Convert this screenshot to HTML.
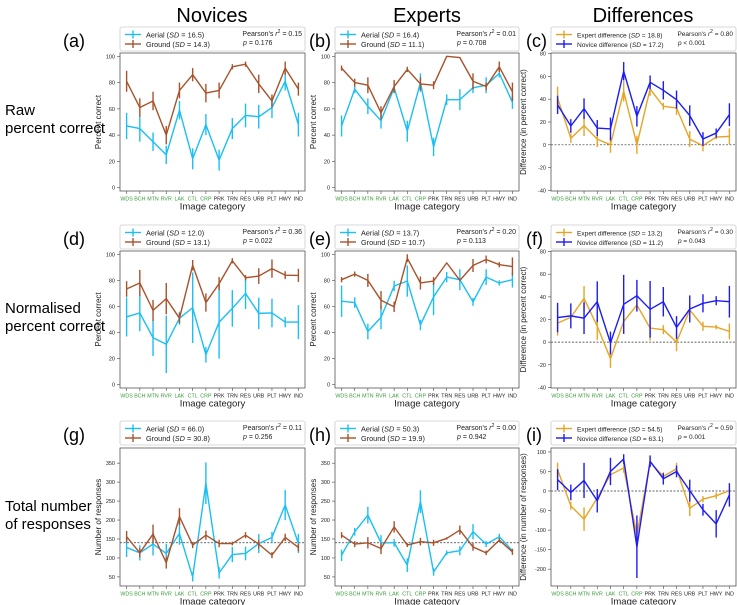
<!DOCTYPE html>
<html><head><meta charset="utf-8">
<style>
html,body{margin:0;padding:0;background:#fff;}
svg{display:block;font-family:"Liberation Sans","DejaVu Sans",sans-serif;}
</style></head>
<body>
<svg id="fig" width="737" height="605" viewBox="0 0 737 605" xmlns="http://www.w3.org/2000/svg">
<text x="212" y="22" font-size="20" text-anchor="middle">Novices</text>
<text x="427" y="22" font-size="20" text-anchor="middle">Experts</text>
<text x="643" y="22" font-size="20" text-anchor="middle">Differences</text>
<text font-size="15"><tspan x="5" y="115">Raw</tspan><tspan x="5" y="133">percent correct</tspan></text>
<text font-size="15"><tspan x="5" y="313">Normalised</tspan><tspan x="5" y="331">percent correct</tspan></text>
<text font-size="15"><tspan x="5" y="511">Total number</tspan><tspan x="5" y="529">of responses</tspan></text>
</svg>
<script>
const categories=["WDS","BCH","MTN","RVR","LAK","CTL","CRP","PRK","TRN","RES","URB","PLT","HWY","IND"];
const greenCount=7;
// (a)
const aAerial=[47,45,35,25,59,22,48,21,45,55,54,61,81,48];
const aAerialErr=[10,10,7,7,7,8,8,8,8,9,9,8,7,9];
const aGround=[81,61,66,40,74,86,72,74,92,94,79,66,91,75];
const aGroundErr=[8,7,7,7,6,5,7,6,2,2,7,5,5,5];
// (b)
const bAerial=[47,75,62,51,76,43,80,31,67,67,76,78,87,65];
const bAerialErr=[8,3,6,6,3,8,7,7,4,8,4,6,3,5];
const bGround=[91,80,78,57,77,90,79,78,100,99,81,77,92,73];
const bGroundErr=[2,3,6,5,5,2,5,3,0,0,6,3,4,7];
// (c)
const cExpert=[41,5.7,16.8,5,0,47,0,49,33.8,32.3,5,-0.8,6.8,7.4];
const cExpertErr=[10,4,9,7,7,9,8,6,3,6,7,5,2,7];
const cNovice=[35,16.5,31.7,14.7,13.9,64.5,25,54.8,47.8,39.6,25.6,5.1,10.3,26.4];
const cNoviceErr=[8,6,9,7,10,8,9,6,8,8,9,6,4,10];
// (d)
const dAerial=[52,55,36,31,51,59,23,48,58.5,70,54.7,55,48,48];
const dAerialErr=[15,14,14,22,5,27,6,28,14,12,12,11,4,13];
const dGround=[73.4,78,57,66,51,91.6,63,77.5,95,82,83.3,89,84,83.8];
const dGroundErr=[6,10,8,12,4,4,7,5,2,2,6,7,3,5];
// (e)
const eAerial=[64,63,40.8,51.6,75.7,79.5,45.8,67.3,82.5,80.5,63.5,82.5,78,80.5];
const eAerialErr=[12,4,6,9,4,12,4,14,4,8,3,6,2,6];
const eGround=[80.5,84.8,80,64.8,59.7,97,78,79.5,93.4,80,91.4,96,92,90.6];
const eGroundErr=[2,2,5,7,4,3,5,3,0,0,5,3,2,7];
// (f)
const fExpert=[16.8,22,38.6,14,-14.7,18.2,32.8,12.4,11,0,28.4,14,13.3,9.5];
const fExpertErr=[11,2,11,12,8,11,5,11,4,8,6,4,2,7];
const fNovice=[21.7,23.2,21.2,35.7,-0.7,33.4,41,29,35.7,13,29.3,34.3,36.6,35.7];
const fNoviceErr=[13,11,14,18,10,26,14,25,13,10,12,8,4,14];
// (g)
const gAerial=[127.6,113.5,136.5,111.8,164.7,50,297,60.6,109,111.8,138,154,239.7,138];
const gAerialErr=[25,20,30,25,30,12,55,15,20,18,25,15,40,25];
const gGround=[156,113.5,163,87,209,134,160,138,138,160,136.5,107.4,154,127.6];
const gGroundErr=[15,12,25,15,22,8,12,10,5,8,12,8,10,10];
// (h)
const hAerial=[107,169,213,140,140,81,248.5,63,113.5,119,169,136.5,156,119];
const hAerialErr=[15,10,22,20,10,18,30,10,6,12,20,8,8,5];
const hGround=[160,136.5,140,125,182,134,143,140,151.5,173.5,129,113.5,147,116];
const hGroundErr=[8,8,15,15,15,5,10,8,3,12,10,6,5,8];
// (i)
const iExpert=[54.6,-38,-72,-18,41.7,59,-112.6,73.4,37.4,57,-44,-21,-12,0.6];
const iExpertErr=[18,10,30,12,15,12,30,10,10,15,20,8,8,5];
const iNovice=[29,-3.7,27,-25,50,82,-142.6,76,31.4,50,1,-48,-84,-10];
const iNoviceErr=[27,20,45,30,35,12,80,15,15,15,28,15,35,30];

const percentTicks=[0,20,40,60,80,100];
const diffTicks=[-40,-20,0,20,40,60,80];
const respTicks=[50,100,150,200,250,300,350];
const respDiffTicks=[-200,-150,-100,-50,0,50,100];

const AER="#1cbff2",GRD="#a8522c",EXP="#e6a526",NOV="#1c1cf5";
const NS="http://www.w3.org/2000/svg";
const svg=document.getElementById("fig");
function mk(tag,attrs,parent){const e=document.createElementNS(NS,tag);for(const k in attrs)e.setAttribute(k,attrs[k]);(parent||svg).appendChild(e);return e;}

const cols=[[120,305],[335,519],[551,736]];
const rows=[[53,191],[251,388],[448,586]];
const legTop=[27,225,421];
const letterX=[63,309,526];

const panels=[
 {id:"a",c:0,r:0,dom:[-2.5,102.5],ticks:percentTicks,yl:"Percent correct",s:[["Aerial","16.5",aAerial,aAerialErr,AER],["Ground","14.3",aGround,aGroundErr,GRD]],r2:"0.15",p:"p = 0.176"},
 {id:"b",c:1,r:0,dom:[-2.5,102.5],ticks:percentTicks,yl:"Percent correct",s:[["Aerial","16.4",bAerial,bAerialErr,AER],["Ground","11.1",bGround,bGroundErr,GRD]],r2:"0.01",p:"p = 0.708"},
 {id:"c",c:2,r:0,dom:[-40.5,80.5],ticks:diffTicks,yl:"Difference (in percent correct)",zero:0,s:[["Expert difference","18.8",cExpert,cExpertErr,EXP],["Novice difference","17.2",cNovice,cNoviceErr,NOV]],r2:"0.80",p:"p < 0.001"},
 {id:"d",c:0,r:1,dom:[-2.5,102.5],ticks:percentTicks,yl:"Percent correct",s:[["Aerial","12.0",dAerial,dAerialErr,AER],["Ground","13.1",dGround,dGroundErr,GRD]],r2:"0.36",p:"p = 0.022"},
 {id:"e",c:1,r:1,dom:[-2.5,102.5],ticks:percentTicks,yl:"Percent correct",s:[["Aerial","13.7",eAerial,eAerialErr,AER],["Ground","10.7",eGround,eGroundErr,GRD]],r2:"0.20",p:"p = 0.113"},
 {id:"f",c:2,r:1,dom:[-40.5,80.5],ticks:diffTicks,yl:"Difference (in percent correct)",zero:0,s:[["Expert difference","13.2",fExpert,fExpertErr,EXP],["Novice difference","11.2",fNovice,fNoviceErr,NOV]],r2:"0.30",p:"p = 0.043"},
 {id:"g",c:0,r:2,dom:[26,390],ticks:respTicks,yl:"Number of responses",zero:140,s:[["Aerial","66.0",gAerial,gAerialErr,AER],["Ground","30.8",gGround,gGroundErr,GRD]],r2:"0.11",p:"p = 0.256"},
 {id:"h",c:1,r:2,dom:[26,390],ticks:respTicks,yl:"Number of responses",zero:140,s:[["Aerial","50.3",hAerial,hAerialErr,AER],["Ground","19.9",hGround,hGroundErr,GRD]],r2:"0.00",p:"p = 0.942"},
 {id:"i",c:2,r:2,dom:[-243,110],ticks:respDiffTicks,yl:"Difference (in number of responses)",zero:0,s:[["Expert difference","54.5",iExpert,iExpertErr,EXP],["Novice difference","63.1",iNovice,iNoviceErr,NOV]],r2:"0.59",p:"p = 0.001"}
];

panels.forEach(P=>{
 const [x0,x1]=cols[P.c],[y0,y1]=rows[P.r];
 const g=mk("g",{});
 
 
 const xs=i=>x0+(i+0.5)*(x1-x0)/categories.length;
 const ys=v=>y1-(v-P.dom[0])/(P.dom[1]-P.dom[0])*(y1-y0);
 const lt=mk("text",{x:letterX[P.c],y:legTop[P.r]+20,"font-size":18},g);lt.textContent="("+P.id+")";
 
 
 P.ticks.forEach(t=>{
  const y=ys(t);
  mk("line",{x1:x0-3,x2:x0,y1:y,y2:y,stroke:"#444","stroke-width":0.6},g);
  const tt=mk("text",{x:x0-5,y:y+2,"font-size":5.5,"text-anchor":"end",fill:"#222"},g);tt.textContent=t;
  
  
 });
 categories.forEach((c,i)=>{
  const x=xs(i);
  mk("line",{x1:x,x2:x,y1:y1,y2:y1+3,stroke:"#444","stroke-width":0.6},g);
  const tt=mk("text",{x:x,y:y1+9.5,"font-size":5.3,"text-anchor":"middle",fill:i<greenCount?"#3a9a3a":"#222"},g);tt.textContent=c;
  
  
 });
 const xl=mk("text",{x:(x0+x1)/2,y:y1+18.5,"font-size":9.5,"text-anchor":"middle",fill:"#222"},g);xl.textContent="Image category";
 
 
 const yx=x0-(P.c==2?25:19),ym=(y0+y1)/2;
 const yl=mk("text",{x:yx,y:ym,"font-size":8,"text-anchor":"middle",fill:"#222",transform:`rotate(-90 ${yx} ${ym})`},g);yl.textContent=P.yl;
 
 
 if(P.zero!==undefined){
  const zl=mk("line",{x1:x0,x2:x1,y1:ys(P.zero),y2:ys(P.zero),stroke:"#333","stroke-width":0.7,"stroke-dasharray":"2,1.5"},g);
  
  
 }
 P.s.forEach((S,k)=>{
  const [name,sd,vals,errs,col]=S;
  const sg=mk("g",{},g);
  
  
  vals.forEach((v,i)=>{
   const x=xs(i);
   const eb=mk("line",{x1:x,x2:x,y1:ys(v-errs[i]),y2:ys(v+errs[i]),stroke:col,"stroke-width":1.4},sg);
   
   
  });
  const pl=mk("polyline",{points:vals.map((v,i)=>xs(i)+","+ys(v)).join(" "),fill:"none",stroke:col,"stroke-width":1.4,"stroke-linejoin":"round"},sg);
  
  
 });
 const fr=mk("rect",{x:x0,y:y0,width:x1-x0,height:y1-y0,fill:"none",stroke:"#555","stroke-width":0.8},g);
 
 
 const lg=mk("g",{},g);
 
 
 const lt0=legTop[P.r];
 mk("rect",{x:x0,y:lt0,width:x1-x0,height:24,fill:"#fff",stroke:"#ccc","stroke-width":0.8,rx:2},lg);
 const lfs=P.c==2?6.6:7.3;
 P.s.forEach((S,k)=>{
  const yy=lt0+7.5+k*9.5;
  const le=mk("g",{},lg);
  
  
  mk("line",{x1:x0+5,x2:x0+21,y1:yy,y2:yy,stroke:S[4],"stroke-width":1.4},le);
  mk("line",{x1:x0+13,x2:x0+13,y1:yy-4,y2:yy+4,stroke:S[4],"stroke-width":1.4},le);
  const t=mk("text",{x:x0+26,y:yy+3,"font-size":lfs,fill:"#222"},le);
  t.innerHTML=S[0]+" (<tspan font-style='italic'>SD</tspan> = "+S[1]+")";
 });
 const r2=mk("text",{x:x1-3,y:lt0+9,"font-size":P.c==2?6.5:7,fill:"#222","text-anchor":"end"},lg);
 r2.innerHTML="Pearson's <tspan font-style='italic'>r</tspan><tspan font-size='5' dy='-3'>2</tspan><tspan dy='3'> = "+P.r2+"</tspan>";
 const pp=mk("text",{x:x1-(P.c==2?58:62),y:lt0+18,"font-size":P.c==2?6.5:7,fill:"#222"},lg);
 pp.innerHTML="<tspan font-style='italic'>p</tspan>"+P.p.slice(1);
});
</script>
</body></html>
